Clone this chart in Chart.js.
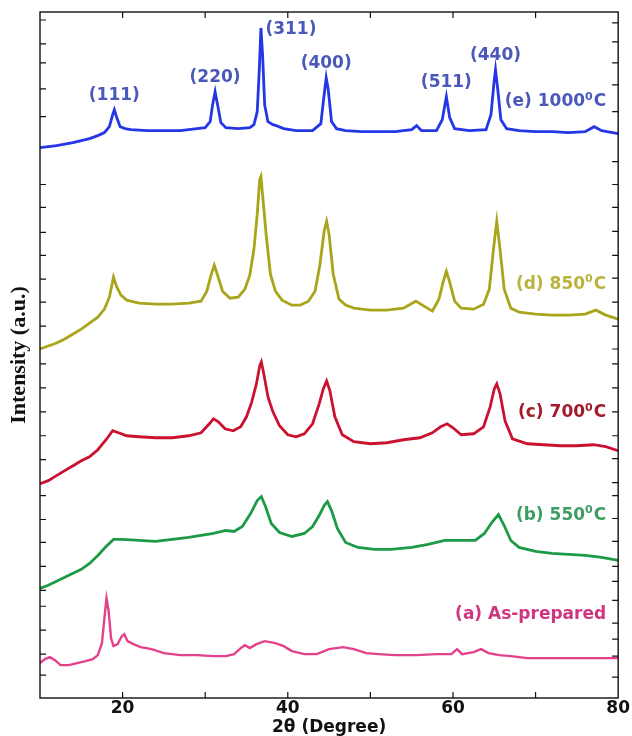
<!DOCTYPE html>
<html>
<head>
<meta charset="utf-8">
<script src="https://cdn.jsdelivr.net/npm/chart.js@4.4.1/dist/chart.umd.min.js"></script>
<style>
  body { margin: 0; background: #fff; }
  canvas { display: block; }
</style>
</head>
<body>
<canvas id="xrd-chart" width="632" height="736"></canvas>
<script>
const e_1000_x = [10, 12, 14, 15, 16, 17, 17.8, 18.4, 18.8, 19.0, 19.3, 19.7, 20.3, 21, 23, 25, 27, 29, 30, 30.6, 30.9, 31.2, 31.5, 31.9, 32.5, 34, 35.4, 35.9, 36.3, 36.55, 36.75, 36.95, 37.2, 37.6, 38.2, 38.6, 39.5, 41, 43, 44.0, 44.4, 44.65, 44.9, 45.3, 45.9, 47, 49, 51, 53, 55.0, 55.6, 56.2, 58, 58.7, 59.2, 59.6, 60.2, 62, 64, 64.6, 65.0, 65.15, 65.4, 65.8, 66.5, 68, 70, 72, 74, 76, 77.1, 78, 80];
const e_1000_y = [552, 554, 557, 559, 561, 564, 567, 573, 585, 590, 582, 573, 571, 570, 569, 569, 569, 571, 572, 578, 595, 608, 595, 577, 572, 571, 572, 575, 588, 630, 672, 645, 595, 578, 575, 574, 571, 569, 569, 576, 605, 622, 610, 578, 571, 569, 568, 568, 568, 570, 574, 569, 569, 580, 603, 582, 571, 569, 570, 585, 620, 630, 612, 580, 571, 569, 568, 568, 567, 568, 573, 569, 566];

const d_850_x = [10, 11, 12, 13, 14, 15, 16, 17, 17.8, 18.4, 18.9, 19.3, 19.8, 20.5, 22, 24, 26, 28, 29.5, 30.2, 30.7, 31.1, 31.5, 32.1, 33.0, 34.0, 34.8, 35.4, 35.9, 36.3, 36.6, 36.75, 37.0, 37.4, 37.9, 38.5, 39.3, 40.5, 41.5, 42.5, 43.3, 43.9, 44.4, 44.7, 45.0, 45.5, 46.2, 47, 48, 50, 52, 54, 55.5, 56.3, 57.5, 58.3, 58.8, 59.2, 59.6, 60.2, 61.0, 62.5, 63.7, 64.4, 64.9, 65.3, 65.7, 66.2, 67.0, 68, 70, 72, 74, 76, 77.3, 78.5, 80];
const d_850_y = [350, 353, 356, 360, 365, 370, 376, 382, 390, 402, 422, 412, 404, 399, 396, 395, 395, 396, 398, 408, 424, 434, 424, 408, 401, 402, 410, 424, 450, 485, 520, 523, 500, 463, 425, 408, 399, 394, 394, 398, 408, 435, 468, 478, 465, 425, 400, 394, 391, 389, 389, 391, 398, 394, 388, 400, 417, 428, 417, 398, 391, 390, 395, 410, 450, 478, 450, 410, 391, 387, 385, 384, 384, 385, 389, 384, 380];

const c_700_x = [10, 11, 12, 13, 14, 15, 16, 17, 18, 18.8, 19.5, 20.5, 22, 24, 26, 28, 29.5, 30.5, 31.0, 31.6, 32.4, 33.4, 34.3, 35.0, 35.6, 36.2, 36.6, 36.8, 37.1, 37.6, 38.2, 39.0, 40.0, 41.0, 42.0, 43.0, 43.8, 44.3, 44.7, 45.1, 45.7, 46.6, 48, 50, 52, 54, 56, 57.5, 58.5, 59.3, 60.0, 61, 62.5, 63.7, 64.5, 65.0, 65.3, 65.7, 66.3, 67.2, 69, 71, 73, 75, 77, 78.5, 80];
const c_700_y = [215, 218, 223, 228, 233, 238, 242, 249, 259, 268, 266, 263, 262, 261, 261, 263, 266, 275, 280, 277, 270, 268, 272, 282, 296, 315, 333, 337, 325, 302, 287, 273, 264, 262, 265, 275, 295, 310, 318, 308, 282, 264, 257, 255, 256, 259, 261, 266, 272, 275, 271, 264, 265, 272, 292, 310, 315, 305, 278, 260, 255, 254, 253, 253, 254, 252, 248];

const b_550_x = [10, 11, 12, 13, 14, 15, 16, 17, 18, 18.9, 20, 22, 24, 26, 28, 29.5, 31, 32.5, 33.5, 34.5, 35.5, 36.3, 36.8, 37.3, 38.0, 39.0, 40.5, 42.0, 43.0, 43.8, 44.4, 44.8, 45.3, 46.0, 47.0, 48.5, 50.5, 52.5, 55, 57, 59, 61, 62.7, 63.8, 64.7, 65.5, 66.2, 67.0, 68.0, 70, 72, 74, 76, 78, 80];
const b_550_y = [110, 113, 117, 121, 125, 129, 135, 143, 152, 159, 159, 158, 157, 159, 161, 163, 165, 168, 167, 172, 185, 198, 202, 192, 175, 166, 162, 165, 172, 183, 193, 197, 188, 170, 156, 151, 149, 149, 151, 154, 158, 158, 158, 165, 176, 184, 173, 158, 151, 147, 145, 144, 143, 141, 138];

const a_prep_x = [10, 10.6, 11.2, 11.8, 12.5, 13.5, 14.5, 15.5, 16.4, 17.0, 17.5, 17.8, 18.05, 18.3, 18.6, 18.9, 19.4, 19.9, 20.2, 20.6, 21.3, 22.2, 23.5, 25, 27, 29, 31, 32.5, 33.5, 34.3, 34.8, 35.4, 36.2, 37.2, 38.5, 39.5, 40.5, 42, 43.5, 45, 46.7, 48, 49.5, 51, 53, 55.6, 58, 59.8, 60.5, 61.1, 62.5, 63.4, 64.3, 65.6, 67, 69, 72, 75, 78, 80];
const a_prep_y = [35, 39, 41, 38, 33, 33, 35, 37, 39, 43, 55, 80, 100, 88, 60, 52, 54, 62, 64, 57, 54, 51, 49, 45, 43, 43, 42, 42, 44, 50, 53, 50, 54, 57, 55, 52, 47, 44, 44, 49, 51, 49, 45, 44, 43, 43, 44, 44, 49, 44, 46, 49, 45, 43, 42, 40, 40, 40, 40, 40];

const x_tick_values = [20, 30, 40, 50, 60, 70, 80];
const left_tick_values = [680, 656, 637, 611, 583, 515, 492, 467, 444, 420, 397, 373, 335, 311, 287, 263, 239, 203, 179, 156, 132, 108, 92, 68, 44, 23];
const right_tick_values = [677, 658, 637, 615, 588, 538, 515, 492, 468, 444, 421, 397, 373, 350, 335, 311, 287, 263, 240, 216, 203, 180, 157, 132, 117, 98, 75, 59, 42, 21];

const peak_labels = ['(111)', '(220)', '(311)', '(400)', '(511)', '(440)'];
const peak_angles = [19.0, 31.2, 36.75, 44.65, 59.2, 65.15];

const to_points = (xs, ys) => xs.map((x, i) => ({ x: x, y: ys[i] }));

const frame_plugin = {
    id: 'frame_plugin',
    afterDraw(chart) {
        const ctx = chart.ctx;
        const area = chart.chartArea;
        const x_scale = chart.scales.x;
        const y_scale = chart.scales.y;
        ctx.save();
        ctx.strokeStyle = '#111';
        ctx.lineWidth = 1.4;
        ctx.strokeRect(area.left, area.top, area.right - area.left, area.bottom - area.top);
        ctx.lineWidth = 1.2;
        ctx.beginPath();
        x_tick_values.slice(0, -1).forEach(v => {
            const px = x_scale.getPixelForValue(v);
            ctx.moveTo(px, area.top);
            ctx.lineTo(px, area.top + 6);
            ctx.moveTo(px, area.bottom);
            ctx.lineTo(px, area.bottom - 6);
        });
        left_tick_values.forEach(v => {
            const py = y_scale.getPixelForValue(v);
            ctx.moveTo(area.left, py);
            ctx.lineTo(area.left + 6, py);
        });
        right_tick_values.forEach(v => {
            const py = y_scale.getPixelForValue(v);
            ctx.moveTo(area.right, py);
            ctx.lineTo(area.right - 6, py);
        });
        ctx.stroke();
        ctx.restore();
    }
};

const label_plugin = {
    id: 'label_plugin',
    afterDatasetsDraw(chart, args, opts) {
        const ctx = chart.ctx;
        const x_scale = chart.scales.x;
        const y_scale = chart.scales.y;
        const area = chart.chartArea;
        ctx.save();
        ctx.textBaseline = 'middle';

        // miller indices above the 1000 C pattern
        ctx.font = 'bold 17px "DejaVu Sans"';
        ctx.fillStyle = opts.peak_color;
        ctx.textAlign = 'center';
        peak_labels.forEach((text, i) => {
            const idx = e_1000_x.indexOf(peak_angles[i]);
            const off = opts.peak_offsets[i];
            const px = x_scale.getPixelForValue(peak_angles[i]) + off[0];
            const py = y_scale.getPixelForValue(e_1000_y[idx]) + off[1];
            ctx.fillText(text, px, py);
        });

        // sample names, right aligned, with a raised degree zero
        ctx.textAlign = 'left';
        opts.samples.forEach(s => {
            const py = y_scale.getPixelForValue(s.y);
            ctx.font = 'bold 17px "DejaVu Sans"';
            const w_main = ctx.measureText(s.text).width;
            const w_tail = s.tail ? ctx.measureText(s.tail).width : 0;
            ctx.font = 'bold 11px "DejaVu Sans"';
            const w_sup = s.sup ? ctx.measureText(s.sup).width + 1 : 0;
            let px = area.right - 12 - (w_main + w_sup + w_tail);
            ctx.fillStyle = s.color;
            ctx.font = 'bold 17px "DejaVu Sans"';
            ctx.fillText(s.text, px, py);
            px += w_main;
            if (s.sup) {
                ctx.font = 'bold 11px "DejaVu Sans"';
                ctx.fillText(s.sup, px, py - 5);
                px += w_sup;
            }
            if (s.tail) {
                ctx.font = 'bold 17px "DejaVu Sans"';
                ctx.fillText(s.tail, px, py);
            }
        });
        ctx.restore();
    }
};

const series_style = (label, color, points, width) => ({
    label: label,
    data: points,
    borderColor: color,
    backgroundColor: color,
    borderWidth: width,
    pointRadius: 0,
    tension: 0,
    fill: false
});

new Chart(document.getElementById('xrd-chart'), {
    type: 'line',
    data: {
        datasets: [
            series_style('(e) 1000', '#2436e6', to_points(e_1000_x, e_1000_y), 2.8),
            series_style('(d) 850', '#a8a51a', to_points(d_850_x, d_850_y), 2.8),
            series_style('(c) 700', '#cc1030', to_points(c_700_x, c_700_y), 2.8),
            series_style('(b) 550', '#1d9a45', to_points(b_550_x, b_550_y), 2.8),
            series_style('(a) As-prepared', '#e3418c', to_points(a_prep_x, a_prep_y), 2.4)
        ]
    },
    options: {
        responsive: false,
        animation: false,
        layout: {
            padding: { top: 12, right: 13, bottom: 0, left: 0 }
        },
        plugins: {
            legend: { display: false },
            tooltip: { enabled: false },
            label_plugin: {
                peak_color: '#4a59b9',
                peak_offsets: [[0, -14], [0, -14], [30, 2], [0, -14], [0, -14], [0, -14]],
                samples: [
                    { text: '(e) 1000', sup: '0', tail: 'C', color: '#4a59b9', y: 598 },
                    { text: '(d) 850', sup: '0', tail: 'C', color: '#bab43c', y: 415 },
                    { text: '(c) 700', sup: '0', tail: 'C', color: '#a31a2a', y: 286 },
                    { text: '(b) 550', sup: '0', tail: 'C', color: '#3d9e63', y: 183 },
                    { text: '(a) As-prepared', color: '#cf3580', y: 84 }
                ]
            }
        },
        scales: {
            x: {
                type: 'linear',
                min: 10,
                max: 80,
                afterBuildTicks: scale => {
                    scale.ticks = x_tick_values.map(v => ({ value: v }));
                },
                grid: { display: false, drawTicks: false },
                border: { display: false },
                ticks: {
                    padding: 2,
                    color: '#111',
                    font: { family: 'DejaVu Sans', size: 17, weight: 'bold', lineHeight: 1 },
                    callback: v => (v % 20 === 0 ? String(v) : '')
                },
                title: {
                    display: true,
                    text: '2θ (Degree)',
                    color: '#111',
                    padding: { top: 0, bottom: 0 },
                    font: { family: 'DejaVu Sans', size: 17, weight: 'bold', lineHeight: 1 }
                }
            },
            y: {
                type: 'linear',
                min: 0,
                max: 688,
                grid: { display: false, drawTicks: false },
                border: { display: false },
                ticks: { display: false },
                title: {
                    display: true,
                    text: 'Intensity (a.u.)',
                    color: '#111',
                    padding: { top: 8, bottom: 10 },
                    font: { family: 'Liberation Serif', size: 22, weight: 'bold', lineHeight: 1 }
                }
            }
        }
    },
    plugins: [frame_plugin, label_plugin]
});
</script>
</body>
</html>
